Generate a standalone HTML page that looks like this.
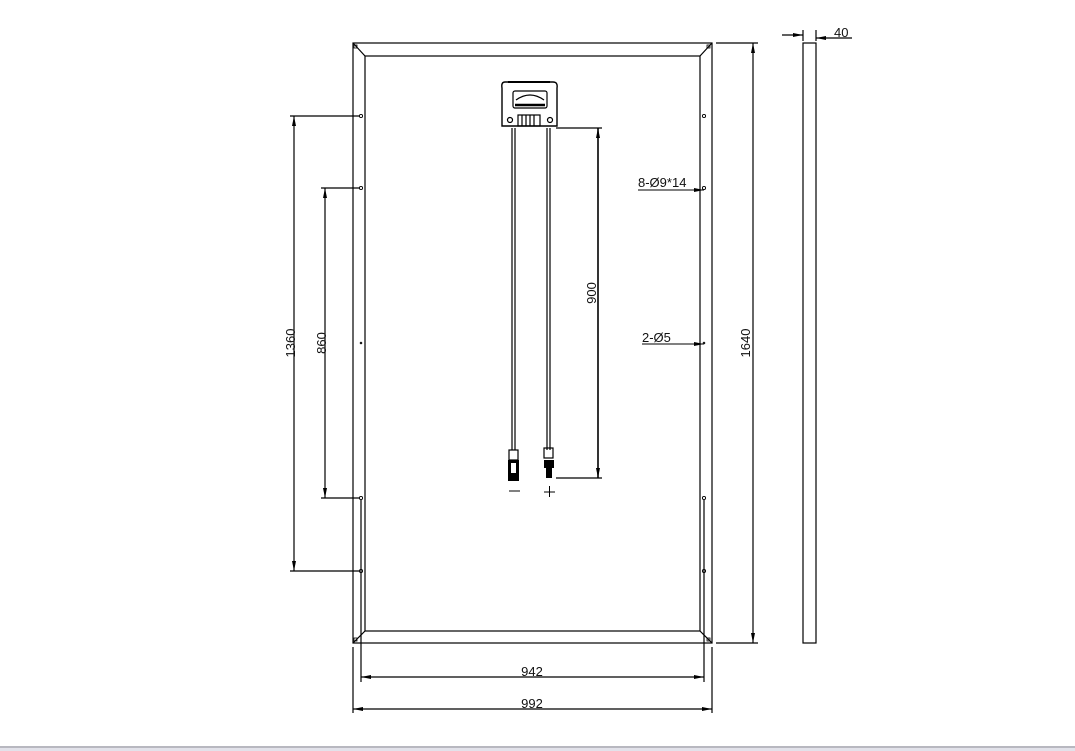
<!DOCTYPE html>
<html><head><meta charset="utf-8"><style>
html,body{margin:0;padding:0;background:#fff;width:1075px;height:751px;overflow:hidden}
svg{display:block}
text{font-family:"Liberation Sans",sans-serif;font-size:13px;fill:#111}
</style></head><body>
<svg width="1075" height="751" viewBox="0 0 1075 751" xmlns="http://www.w3.org/2000/svg">
<defs>
<marker id="a" viewBox="0 0 10 4" refX="10" refY="2" markerWidth="10" markerHeight="4" orient="auto-start-reverse" markerUnits="userSpaceOnUse"><path d="M0,0 L10,2 L0,4z" fill="#000"/></marker>
</defs>
<g stroke="#000" stroke-width="1.2" fill="none">
<!-- frame -->
<rect x="353" y="43" width="359" height="600"/>
<rect x="365" y="56" width="335" height="575"/>
<line x1="353" y1="43" x2="365" y2="56"/><line x1="712" y1="43" x2="700" y2="56"/>
<line x1="353" y1="643" x2="365" y2="631"/><line x1="712" y1="643" x2="700" y2="631"/>
<rect x="354" y="45" width="3" height="3" stroke-width="0.8"/>
<rect x="707" y="45" width="3" height="3" stroke-width="0.8"/>
<rect x="354" y="638" width="3" height="3" stroke-width="0.8"/>
<rect x="707" y="638" width="3" height="3" stroke-width="0.8"/>
<!-- holes -->
<g stroke-width="0.9">
<circle cx="361" cy="116" r="1.6"/><circle cx="361" cy="188" r="1.6"/><circle cx="361" cy="498" r="1.6"/><circle cx="361" cy="571" r="1.6"/>
<circle cx="704" cy="116" r="1.6"/><circle cx="704" cy="188" r="1.6"/><circle cx="704" cy="498" r="1.6"/><circle cx="704" cy="571" r="1.6"/>
<circle cx="361" cy="343" r="0.8"/><circle cx="704" cy="343" r="0.8"/>
</g>
<line x1="361" y1="500" x2="361" y2="682"/>
<line x1="704" y1="500" x2="704" y2="682"/>
<line x1="353" y1="647" x2="353" y2="713"/>
<line x1="712" y1="647" x2="712" y2="713"/>
<!-- left dims -->
<line x1="290" y1="116" x2="359" y2="116"/><line x1="290" y1="571" x2="359" y2="571"/>
<line x1="321" y1="188" x2="359" y2="188"/><line x1="321" y1="498" x2="359" y2="498"/>
<line x1="294" y1="116" x2="294" y2="571" marker-start="url(#a)" marker-end="url(#a)"/>
<line x1="325" y1="188" x2="325" y2="498" marker-start="url(#a)" marker-end="url(#a)"/>
<!-- bottom dims -->
<line x1="361" y1="677" x2="704" y2="677" marker-start="url(#a)" marker-end="url(#a)"/>
<line x1="353" y1="709" x2="712" y2="709" marker-start="url(#a)" marker-end="url(#a)"/>
<!-- 1640 -->
<line x1="716" y1="43" x2="758" y2="43"/><line x1="716" y1="643" x2="758" y2="643"/>
<line x1="753" y1="43" x2="753" y2="643" marker-start="url(#a)" marker-end="url(#a)"/>
<!-- side view -->
<rect x="803" y="43" width="13" height="600"/>
<line x1="803" y1="30" x2="803" y2="41"/><line x1="816" y1="30" x2="816" y2="41"/>
<line x1="782" y1="35" x2="803" y2="35" marker-end="url(#a)"/>
<line x1="852" y1="38" x2="816" y2="38" marker-end="url(#a)"/>
<!-- 900 -->
<line x1="556" y1="128" x2="602" y2="128"/><line x1="556" y1="478" x2="602" y2="478"/>
<line x1="598" y1="128" x2="598" y2="478" marker-start="url(#a)" marker-end="url(#a)" stroke-width="1.6"/>
<!-- junction box -->
<path d="M505,82 Q501,82 502,88 L502,126 L557,126 L557,88 Q558,82 553,82 Z" stroke-width="1.4"/>
<line x1="508" y1="82" x2="550" y2="82" stroke-width="2"/>
<rect x="513" y="91" width="34" height="17" rx="2"/>
<path d="M516,100 Q530,90 544,100"/>
<line x1="515" y1="105" x2="545" y2="105" stroke-width="2.5"/>
<rect x="518" y="115" width="22" height="11"/>
<line x1="522" y1="115" x2="522" y2="126"/><line x1="526" y1="115" x2="526" y2="126"/><line x1="530" y1="115" x2="530" y2="126"/><line x1="534" y1="115" x2="534" y2="126"/>
<circle cx="510" cy="120" r="2.5"/><circle cx="550" cy="120" r="2.5"/>
<!-- cables -->
<line x1="512" y1="128" x2="512" y2="450"/><line x1="515" y1="128" x2="515" y2="450"/>
<line x1="547" y1="128" x2="547" y2="450"/><line x1="550" y1="128" x2="550" y2="450"/>
<rect x="509" y="450" width="9" height="10"/>
<rect x="544" y="448" width="9" height="10"/>
</g>
<rect x="508" y="460" width="11" height="21" fill="#000"/>
<rect x="511" y="463" width="5" height="10" fill="#fff"/>
<rect x="544" y="460" width="10" height="8" fill="#000"/>
<rect x="546" y="468" width="6" height="10" fill="#000"/>
<line x1="509" y1="491" x2="520" y2="491" stroke="#000" stroke-width="1"/>
<line x1="544" y1="492" x2="555" y2="492" stroke="#000" stroke-width="1"/>
<line x1="549.5" y1="486" x2="549.5" y2="497" stroke="#000" stroke-width="1"/>
<!-- leaders -->
<line x1="638" y1="190" x2="704" y2="190" stroke="#000" stroke-width="1" marker-end="url(#a)"/>
<line x1="642" y1="344" x2="704" y2="344" stroke="#000" stroke-width="1" marker-end="url(#a)"/>
<!-- text -->
<text x="638" y="187">8-Ø9*14</text>
<text x="642" y="342">2-Ø5</text>
<text x="834" y="37">40</text>
<text x="532" y="676" text-anchor="middle">942</text>
<text x="532" y="708" text-anchor="middle">992</text>
<text transform="translate(750,343) rotate(-90)" text-anchor="middle">1640</text>
<text transform="translate(295,343) rotate(-90)" text-anchor="middle">1360</text>
<text transform="translate(326,343) rotate(-90)" text-anchor="middle">860</text>
<text transform="translate(596,293) rotate(-90)" text-anchor="middle">900</text>
<rect x="0" y="746" width="1075" height="2" fill="#b8b8c0"/>
<rect x="0" y="748" width="1075" height="3" fill="#e2e2ea"/>
</svg>
</body></html>
